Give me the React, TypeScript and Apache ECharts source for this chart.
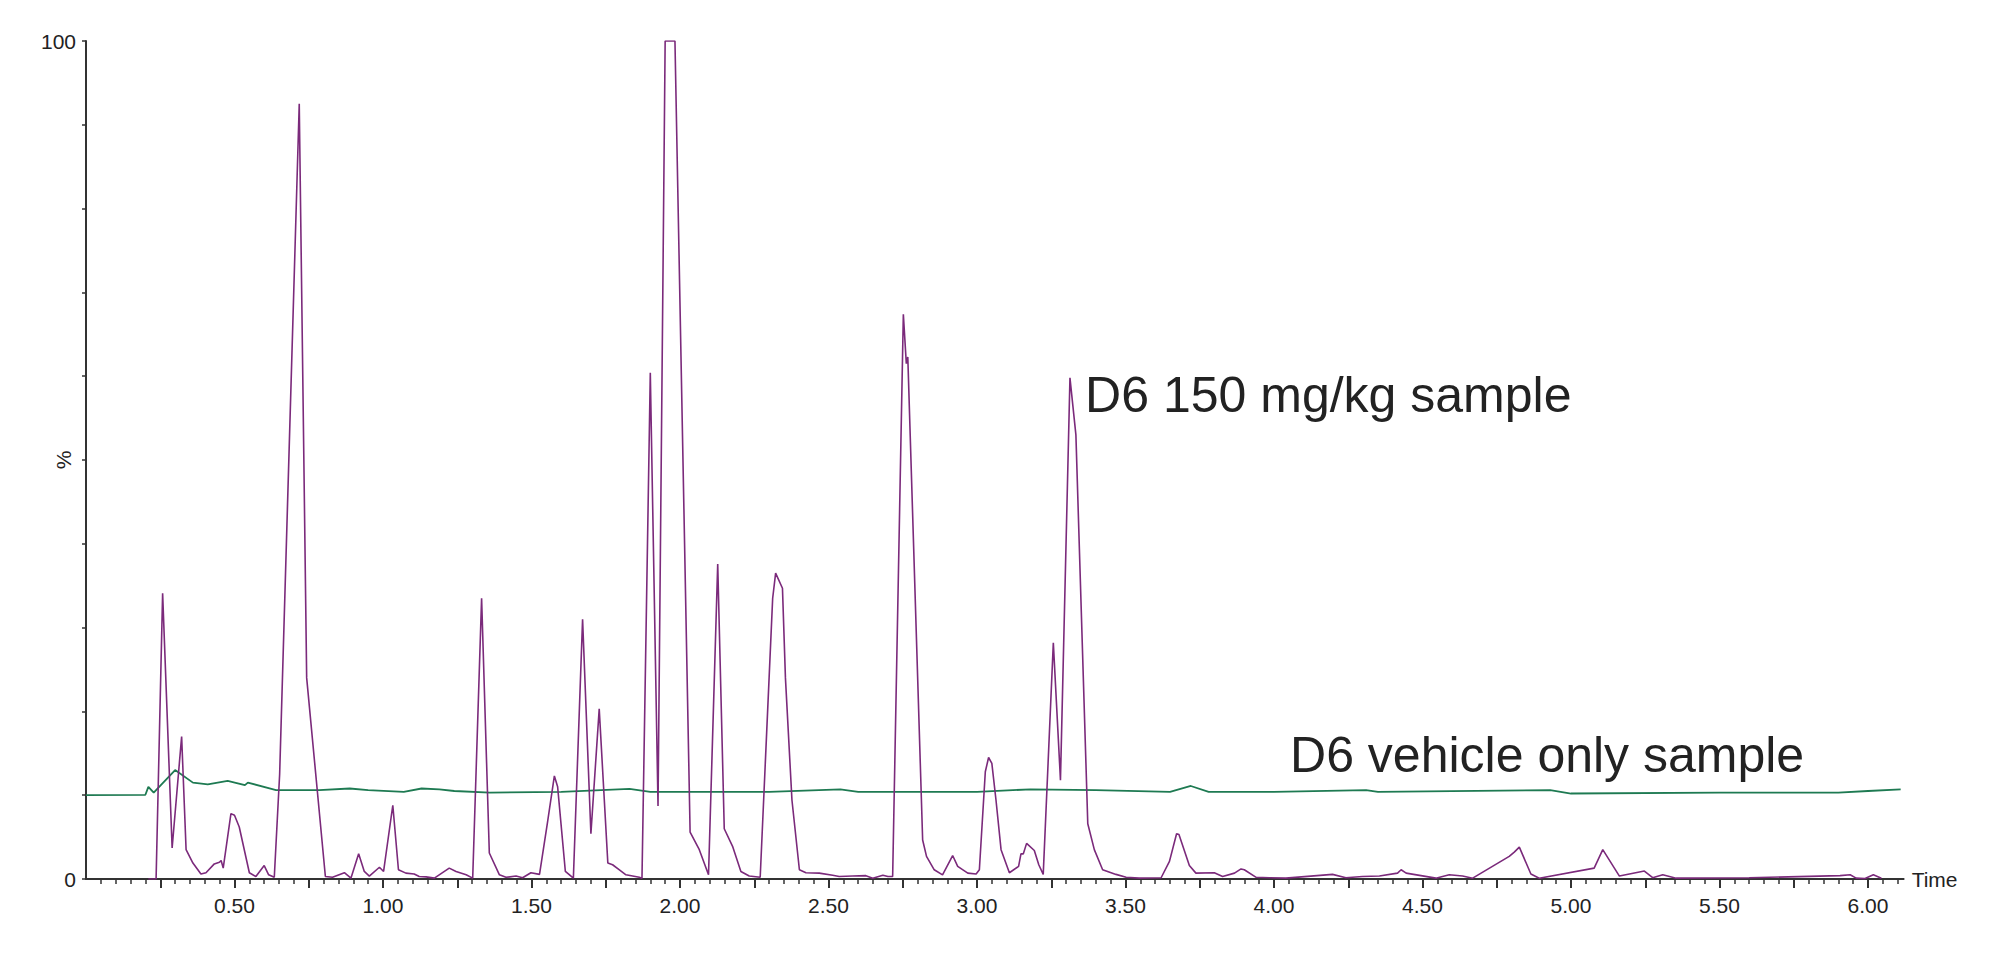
import React, { useEffect, useRef } from "react";
import * as echarts from "echarts";

// ---- axis definitions ----
const TIME_MIN = 0;
const TIME_MAX = 6.12;
const Y_MIN = 0;
const Y_MAX = 100;

const xMajorTicks: number[] = [];
for (let i = 1; i <= 24; i++) xMajorTicks.push(+(i * 0.25).toFixed(2));
const xLabelTicks: number[] = [0.5, 1.0, 1.5, 2.0, 2.5, 3.0, 3.5, 4.0, 4.5, 5.0, 5.5, 6.0];
const xMinorTicks: number[] = [];
for (let i = 1; i <= 122; i++) xMinorTicks.push(+(i * 0.05).toFixed(2));
const yTicks: number[] = [0, 10, 20, 30, 40, 50, 60, 70, 80, 90, 100];
const yLabels: number[] = [0, 100];

// ---- series: [time (min), intensity (%)] ----
const sample150: [number, number][] = [
  [0.21, 0], [0.236, 0], [0.258, 34.1], [0.29, 3.7], [0.322, 17.0], [0.337, 3.5],
  [0.36, 1.9], [0.387, 0.6], [0.404, 0.75], [0.432, 1.8], [0.449, 2.0], [0.455, 2.2],
  [0.462, 1.3], [0.488, 7.8], [0.5, 7.6], [0.516, 6.2], [0.55, 0.75], [0.572, 0.3],
  [0.6, 1.6], [0.615, 0.5], [0.634, 0.2], [0.652, 12.5], [0.718, 92.5], [0.743, 24.0],
  [0.806, 0.3], [0.83, 0.2], [0.87, 0.75], [0.892, 0.1], [0.918, 3.0], [0.937, 0.9],
  [0.954, 0.35], [0.988, 1.4], [1.002, 0.9], [1.033, 8.8], [1.052, 1.1], [1.077, 0.7],
  [1.105, 0.6], [1.122, 0.3], [1.145, 0.25], [1.173, 0.1], [1.223, 1.3], [1.246, 0.9],
  [1.28, 0.5], [1.302, 0.1], [1.332, 33.5], [1.358, 3.1], [1.392, 0.5], [1.414, 0.2],
  [1.448, 0.35], [1.47, 0.15], [1.498, 0.75], [1.527, 0.55], [1.554, 6.8], [1.577, 12.3],
  [1.588, 11.0], [1.614, 0.9], [1.641, 0.1], [1.672, 31.0], [1.7, 5.4], [1.728, 20.3],
  [1.757, 1.9], [1.773, 1.7], [1.796, 1.1], [1.818, 0.5], [1.863, 0.2], [1.872, 0.1],
  [1.9, 60.4], [1.926, 8.7], [1.95, 100], [1.983, 100], [2.034, 5.6], [2.065, 3.5],
  [2.096, 0.5], [2.127, 37.6], [2.149, 6.0], [2.177, 3.9], [2.205, 0.9], [2.233, 0.35],
  [2.27, 0.2], [2.312, 33.5], [2.322, 36.5], [2.345, 34.7], [2.355, 24.0], [2.377, 9.4],
  [2.402, 1.1], [2.424, 0.75], [2.469, 0.7], [2.514, 0.45], [2.536, 0.3], [2.581, 0.35],
  [2.626, 0.4], [2.649, 0.1], [2.683, 0.45], [2.7, 0.3], [2.716, 0.3], [2.752, 67.4],
  [2.762, 61.5], [2.767, 62.3], [2.817, 4.65], [2.83, 2.7], [2.856, 1.1], [2.884, 0.5],
  [2.918, 2.8], [2.935, 1.5], [2.969, 0.7], [2.997, 0.6], [3.008, 1.1], [3.028, 12.8],
  [3.039, 14.5], [3.05, 13.8], [3.064, 9.4], [3.081, 3.5], [3.109, 0.75], [3.14, 1.5],
  [3.148, 3.0], [3.156, 3.0], [3.167, 4.25], [3.193, 3.4], [3.208, 1.7], [3.223, 0.55],
  [3.257, 28.2], [3.281, 11.8], [3.313, 59.8], [3.333, 53.0], [3.373, 6.6], [3.395, 3.5],
  [3.423, 1.1], [3.468, 0.55], [3.502, 0.2], [3.546, 0.1], [3.62, 0.15], [3.648, 2.1],
  [3.672, 5.4], [3.68, 5.3], [3.715, 1.6], [3.737, 0.7], [3.799, 0.75], [3.827, 0.3],
  [3.867, 0.7], [3.889, 1.2], [3.9, 1.1], [3.94, 0.2], [3.984, 0.15], [4.04, 0.1],
  [4.197, 0.55], [4.242, 0.15], [4.298, 0.3], [4.355, 0.35], [4.416, 0.7], [4.428, 1.1],
  [4.445, 0.7], [4.545, 0.1], [4.59, 0.5], [4.635, 0.35], [4.669, 0.1], [4.792, 2.7],
  [4.809, 3.2], [4.826, 3.8], [4.865, 0.6], [4.893, 0.1], [5.078, 1.3], [5.107, 3.5],
  [5.163, 0.35], [5.247, 0.95], [5.275, 0.15], [5.309, 0.5], [5.354, 0.1], [5.6, 0.15],
  [5.906, 0.4], [5.94, 0.5], [5.96, 0.1], [5.99, 0.05], [6.018, 0.5], [6.045, 0.1],
];

const vehicleOnly: [number, number][] = [
  [0.0, 10.0], [0.2, 10.05], [0.21, 11.0], [0.228, 10.3], [0.3, 13.0], [0.36, 11.5],
  [0.41, 11.3], [0.477, 11.7], [0.535, 11.2], [0.545, 11.5], [0.64, 10.6], [0.785, 10.6],
  [0.888, 10.8], [0.95, 10.6], [1.07, 10.4], [1.13, 10.8], [1.19, 10.7], [1.24, 10.5],
  [1.36, 10.3], [1.6, 10.4], [1.83, 10.75], [1.9, 10.4], [2.3, 10.4], [2.54, 10.7],
  [2.6, 10.4], [3.0, 10.4], [3.18, 10.7], [3.4, 10.6], [3.65, 10.4], [3.72, 11.1],
  [3.78, 10.4], [4.0, 10.4], [4.31, 10.6], [4.35, 10.4], [4.93, 10.6], [5.0, 10.2],
  [5.5, 10.3], [5.9, 10.3], [6.0, 10.5], [6.11, 10.7],
];

// ---- annotation texts and their data anchors ----
const annotationTexts: string[] = ["D6 150 mg/kg sample", "D6 vehicle only sample"];
const annotationTimes: number[] = [3.364, 4.054];
const annotationValues: number[] = [57.8, 14.8];

const FONT = "'Liberation Sans', Arial, Helvetica, sans-serif";
const TEXT_COLOR = "#222222";
const PURPLE = "#7b2a7b";
const GREEN = "#1e7a52";

export default function App() {
  const ref = useRef<HTMLDivElement>(null);

  useEffect(() => {
    if (!ref.current) return;
    const chart = echarts.init(ref.current, undefined, { renderer: "svg" });

    const gridBox = { left: 86, top: 41, width: (TIME_MAX - TIME_MIN) * 297, height: 838 };

    const option: any = {
      animation: false,
      backgroundColor: "#ffffff",
      grid: [
        { ...gridBox, containLabel: false, outerBoundsMode: "none" },
        { ...gridBox, containLabel: false, outerBoundsMode: "none" },
      ],
      xAxis: [
        {
          type: "value",
          gridIndex: 0,
          min: TIME_MIN,
          max: TIME_MAX,
          name: "Time",
          nameLocation: "end",
          nameGap: 8,
          nameMoveOverlap: false,
          nameTextStyle: { color: TEXT_COLOR, fontSize: 21, fontFamily: FONT, verticalAlign: "middle" },
          axisLine: { show: true, lineStyle: { color: "#333333", width: 2 } },
          axisTick: { show: true, customValues: xMajorTicks, length: 9, lineStyle: { color: "#333333", width: 2 } },
          axisLabel: {
            show: true,
            customValues: xLabelTicks,
            formatter: (v: number) => v.toFixed(2),
            color: TEXT_COLOR,
            fontSize: 21,
            fontFamily: FONT,
            margin: 16,
          },
          splitLine: { show: false },
        },
        {
          type: "value",
          gridIndex: 1,
          min: TIME_MIN,
          max: TIME_MAX,
          axisLine: { show: false },
          axisTick: { show: true, customValues: xMinorTicks, length: 5, lineStyle: { color: "#333333", width: 1.5 } },
          axisLabel: { show: false },
          splitLine: { show: false },
        },
      ],
      yAxis: [
        {
          type: "value",
          gridIndex: 0,
          min: Y_MIN,
          max: Y_MAX,
          name: "%",
          nameLocation: "middle",
          nameGap: 12,
          nameRotate: 90,
          nameMoveOverlap: false,
          nameTextStyle: { color: TEXT_COLOR, fontSize: 21, fontFamily: FONT },
          axisLine: { show: true, lineStyle: { color: "#333333", width: 2 } },
          axisTick: { show: true, customValues: yTicks, length: 4, lineStyle: { color: "#333333", width: 1.5 } },
          axisLabel: {
            show: true,
            customValues: yLabels,
            formatter: (v: number) => String(v),
            color: TEXT_COLOR,
            fontSize: 21,
            fontFamily: FONT,
            margin: 10,
          },
          splitLine: { show: false },
        },
        {
          type: "value",
          gridIndex: 1,
          min: Y_MIN,
          max: Y_MAX,
          show: false,
        },
      ],
      series: [
        {
          name: "D6 vehicle only sample",
          type: "line",
          xAxisIndex: 0,
          yAxisIndex: 0,
          data: vehicleOnly,
          showSymbol: false,
          symbol: "none",
          lineStyle: { color: GREEN, width: 1.8 },
          z: 2,
        },
        {
          name: "D6 150 mg/kg sample",
          type: "line",
          xAxisIndex: 0,
          yAxisIndex: 0,
          data: sample150,
          showSymbol: false,
          symbol: "none",
          lineStyle: { color: PURPLE, width: 1.6 },
          z: 3,
        },
      ],
    };

    chart.setOption(option);

    const graphics = annotationTexts.map((txt, i) => {
      const p = chart.convertToPixel({ gridIndex: 0 }, [annotationTimes[i], annotationValues[i]]) as number[];
      return {
        type: "text",
        x: p[0],
        y: p[1],
        silent: true,
        style: {
          text: txt,
          fill: TEXT_COLOR,
          fontSize: 50,
          fontFamily: FONT,
          align: "left",
          verticalAlign: "middle",
        },
      };
    });
    chart.setOption({ graphic: graphics });

    return () => chart.dispose();
  }, []);

  return (
    <div
      ref={ref}
      style={{ position: "fixed", left: 0, top: 0, width: "2000px", height: "961px", background: "#fff" }}
    />
  );
}
